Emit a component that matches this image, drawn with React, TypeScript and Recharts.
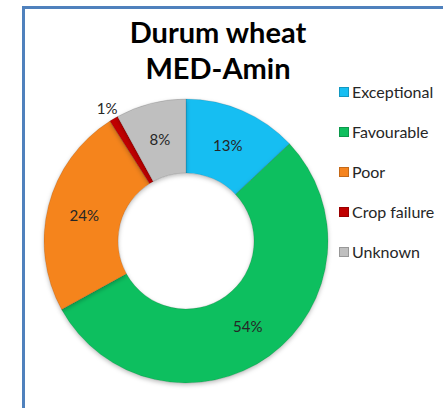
import React from "react";
import { PieChart, Pie, Cell } from "recharts";

const categories = ["Exceptional", "Favourable", "Poor", "Crop failure", "Unknown"];
const shares = [13, 54, 24, 1, 8];
const colors = ["#17BEF2", "#0FBF5E", "#F5841F", "#C00000", "#BFBFBF"];

const data = categories.map((name, i) => ({ name, value: shares[i] }));

const RAD = Math.PI / 180;
const FONT = "Lato, 'Open Sans', sans-serif";

const renderLabel = (props: any) => {
  const { cx, cy, midAngle, innerRadius, outerRadius, value } = props;
  // tiny slice gets its label outside the ring
  const r = value < 3 ? outerRadius + 13 : (innerRadius + outerRadius) / 2;
  const x = cx + r * Math.cos(-midAngle * RAD);
  const y = cy + r * Math.sin(-midAngle * RAD);
  return (
    <text
      x={x}
      y={y}
      textAnchor="middle"
      dominantBaseline="central"
      fontSize={15}
      fontFamily={FONT}
      fill="#262626"
    >
      {value}%
    </text>
  );
};

export default function App() {
  return (
    <div style={{ position: "absolute", left: 0, top: 0, width: 443, height: 408, overflow: "hidden", background: "#fff" }}>
      {/* chart frame */}
      <div
        style={{
          position: "absolute",
          left: 22,
          top: 6,
          width: 440,
          height: 440,
          borderLeft: "3px solid #4F81BD",
          borderTop: "3px solid #4F81BD",
          borderRight: "1px solid #D0D0D0",
          boxSizing: "border-box",
        }}
      />
      <div
        style={{
          position: "absolute",
          left: 108,
          top: 14,
          width: 220,
          textAlign: "center",
          fontFamily: FONT,
          fontWeight: 700,
          fontSize: 29,
          lineHeight: "36px",
          color: "#000",
        }}
      >
        Durum wheat
        <br />
        MED-Amin
      </div>

      <div style={{ position: "absolute", left: 0, top: 0 }}>
        <PieChart width={443} height={408}>
          <defs>
            <filter id="shadow" x="-20%" y="-20%" width="140%" height="140%">
              <feDropShadow dx="0" dy="2" stdDeviation="2" floodColor="#000" floodOpacity="0.25" />
            </filter>
          </defs>
          <Pie
            data={data}
            dataKey="value"
            nameKey="name"
            cx={181}
            cy={236}
            innerRadius={68}
            outerRadius={142}
            startAngle={90}
            endAngle={-270}
            label={renderLabel}
            labelLine={false}
            stroke="rgba(0,0,0,0.12)"
            strokeWidth={1}
            isAnimationActive={false}
            style={{ filter: "url(#shadow)" }}
          >
            {data.map((d, i) => (
              <Cell key={d.name} fill={colors[i]} />
            ))}
          </Pie>
        </PieChart>
      </div>

      {/* legend */}
      <div style={{ position: "absolute", left: 339, top: 72, fontFamily: FONT, fontSize: 16, color: "#262626" }}>
        {categories.map((c, i) => (
          <div key={c} style={{ display: "flex", alignItems: "center", height: 40 }}>
            <span
              style={{
                display: "inline-block",
                width: 8,
                height: 8,
                background: colors[i],
                border: "1px solid rgba(0,0,0,0.2)",
                marginRight: 3,
              }}
            />
            <span style={{ lineHeight: "20px" }}>{c}</span>
          </div>
        ))}
      </div>
    </div>
  );
}
